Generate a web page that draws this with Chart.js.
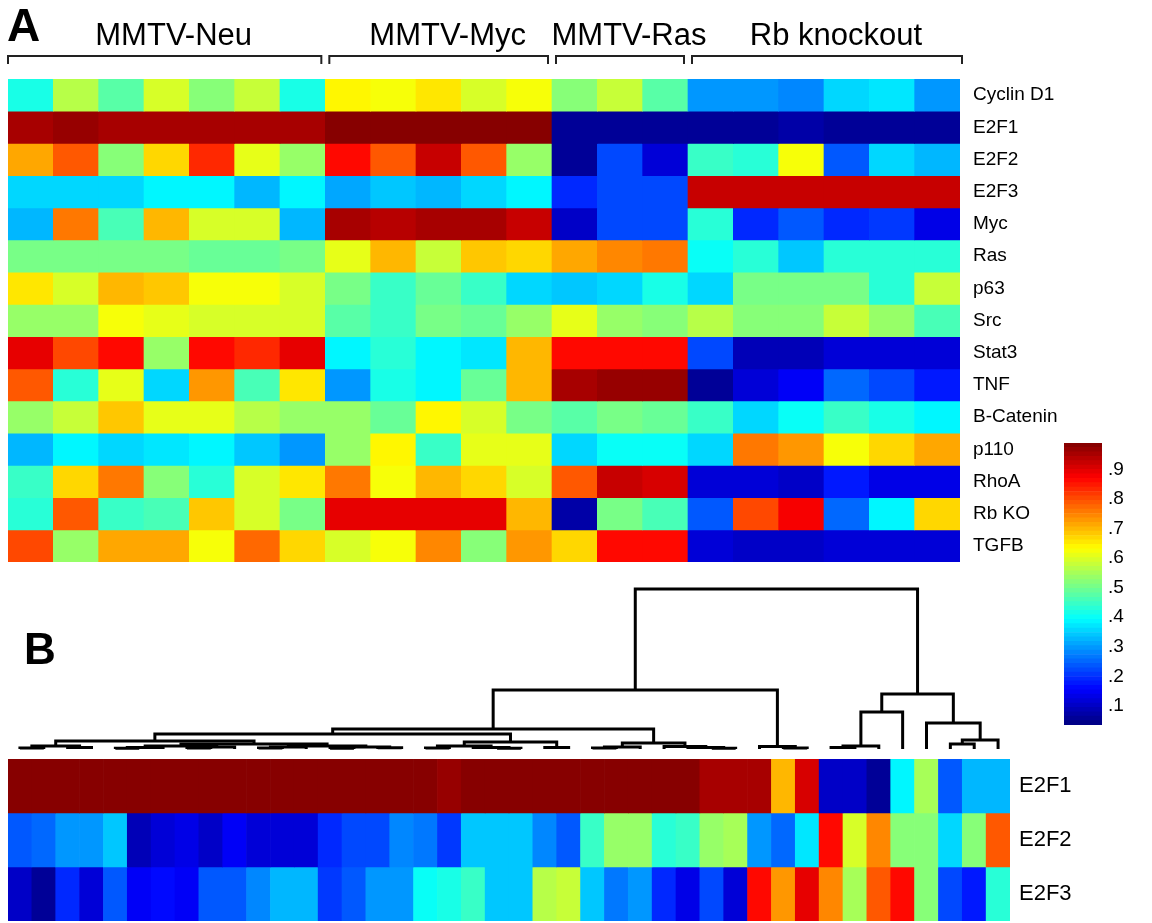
<!DOCTYPE html>
<html>
<head>
<meta charset="utf-8">
<script src="https://cdn.jsdelivr.net/npm/chart.js@4.4.0/dist/chart.umd.min.js"></script>
<style>
  html, body { margin: 0; padding: 0; background: #fff; overflow: hidden; }
  #page { position: relative; width: 1152px; height: 923px; overflow: hidden; }
  .box { position: absolute; }
</style>
</head>
<body>
<div id="page">
  <div class="box" style="left:0;top:0;width:1152px;height:600px"><canvas id="heatA"></canvas></div>
  <div class="box" style="left:1040px;top:420px;width:112px;height:330px"><canvas id="cbar"></canvas></div>
  <div class="box" style="left:0;top:560px;width:1152px;height:200px"><canvas id="dendro"></canvas></div>
  <div class="box" style="left:0;top:700px;width:1152px;height:260px"><canvas id="heatB"></canvas></div>
</div>
<script>
// ---- panel A data ----
var groupNames = ['MMTV-Neu', 'MMTV-Myc', 'MMTV-Ras', 'Rb knockout'];
var groupSizes = [7, 5, 3, 6];
var rowLabels = ['Cyclin D1', 'E2F1', 'E2F2', 'E2F3', 'Myc', 'Ras', 'p63', 'Src', 'Stat3', 'TNF', 'B-Catenin', 'p110', 'RhoA', 'Rb KO', 'TGFB'];

var cyclinD1 = [.41, .57, .48, .60, .52, .58, .42, .64, .63, .66, .59, .62, .52, .58, .47, .30, .29, .28, .36, .37, .30];
var e2f1     = [.95, .97, .96, .95, .95, .95, .95, .98, .98, .98, .98, .98, .06, .06, .06, .06, .06, .07, .06, .06, .06];
var e2f2     = [.72, .79, .52, .67, .83, .61, .53, .86, .79, .93, .79, .53, .06, .22, .12, .45, .43, .62, .24, .36, .33];
var e2f3     = [.35, .35, .36, .39, .38, .33, .38, .31, .34, .33, .35, .385, .19, .22, .22, .92, .92, .93, .92, .92, .92];
var myc      = [.33, .76, .46, .70, .59, .59, .32, .95, .94, .96, .95, .93, .10, .22, .22, .43, .19, .23, .19, .20, .13];
var ras      = [.50, .51, .50, .50, .49, .49, .51, .61, .70, .58, .69, .67, .72, .75, .76, .40, .43, .34, .43, .43, .43];
var p63      = [.66, .59, .70, .69, .63, .63, .59, .51, .45, .49, .44, .35, .34, .36, .42, .35, .50, .51, .51, .43, .58];
var src      = [.54, .54, .62, .61, .60, .59, .59, .47, .45, .51, .49, .53, .61, .53, .52, .57, .52, .52, .58, .53, .46];
var stat3    = [.89, .80, .86, .53, .86, .83, .90, .39, .43, .385, .37, .70, .87, .87, .87, .22, .09, .09, .11, .11, .11];
var tnf      = [.79, .43, .61, .36, .73, .46, .66, .29, .42, .39, .49, .70, .96, .97, .97, .06, .11, .15, .25, .22, .18];
var bCatenin = [.54, .58, .68, .61, .61, .57, .53, .53, .49, .64, .59, .51, .47, .51, .49, .45, .36, .40, .45, .42, .385];
var p110     = [.32, .385, .35, .37, .385, .34, .29, .53, .64, .45, .61, .61, .35, .40, .40, .36, .76, .73, .63, .67, .72];
var rhoA     = [.45, .67, .76, .52, .43, .60, .66, .76, .63, .70, .67, .59, .79, .93, .91, .11, .11, .10, .17, .13, .13];
var rbKO     = [.43, .79, .45, .46, .69, .60, .50, .89, .89, .89, .89, .70, .07, .50, .46, .24, .80, .88, .25, .385, .67];
var tgfb     = [.80, .54, .72, .72, .63, .77, .67, .60, .63, .75, .52, .73, .67, .86, .86, .12, .10, .10, .12, .11, .11];

// ---- panel B data ----
var rowLabelsB = ['E2F1', 'E2F2', 'E2F3'];
var bE2F1 = [.98, .98, .98, .98, .98, .98, .98, .98, .98, .98, .98, .98, .98, .98, .98, .98, .98, .98, .97, .98, .98,
             .98, .98, .98, .98, .98, .98, .98, .98, .96, .96, .96, .70, .91, .10, .10, .05, .39, .55, .24, .32, .33];
var bE2F2 = [.24, .25, .30, .30, .34, .08, .12, .13, .10, .15, .11, .11, .12, .19, .22, .22, .28, .27, .20, .34, .34,
             .34, .28, .23, .45, .53, .54, .43, .45, .54, .55, .29, .25, .37, .87, .60, .75, .52, .52, .36, .52, .79];
var bE2F3 = [.10, .06, .19, .12, .23, .15, .16, .15, .23, .23, .28, .33, .33, .20, .24, .30, .30, .40, .41, .45, .34,
             .34, .57, .58, .34, .27, .29, .19, .13, .22, .11, .87, .73, .89, .75, .55, .79, .87, .52, .22, .18, .43];

// dendrogram linkage: [child a, child b, height]; leaves are 0..41, merge m gets id 42 + m
var linkage = [
  [0, 1, 1], [2, 3, 1.5], [42, 43, 3],
  [4, 5, 0.8], [45, 6, 1.5], [7, 8, 1], [47, 9, 2], [46, 48, 3],
  [10, 11, 1], [50, 12, 2], [13, 14, 0.8], [15, 16, 1.2], [52, 53, 2], [51, 54, 3],
  [49, 55, 5], [44, 56, 8],
  [17, 18, 1], [20, 21, 0.8], [19, 59, 1.5], [58, 60, 3], [22, 23, 1.5], [61, 62, 7],
  [57, 63, 15],
  [24, 25, 1], [65, 26, 2], [29, 30, 0.8], [28, 67, 1.5], [27, 68, 2.5], [66, 69, 6],
  [64, 70, 20],
  [32, 33, 1], [31, 72, 2.5], [71, 73, 59],
  [34, 35, 1.5], [75, 36, 3], [76, 37, 37], [39, 40, 5], [78, 41, 9], [38, 79, 26], [77, 80, 55],
  [74, 81, 160]
];

// colour scale
var cbTicks = [.1, .2, .3, .4, .5, .6, .7, .8, .9];
var vMin = 0.035, vMax = 0.99, nLevels = 64;

Chart.defaults.font.family = '"Liberation Sans", Arial, sans-serif';
Chart.defaults.color = '#000';

function jet(t) {
  var c = function (x) { return Math.round(255 * Math.min(1, Math.max(0, x))); };
  return 'rgb(' + c(1.5 - Math.abs(4 * t - 3)) + ',' + c(1.5 - Math.abs(4 * t - 2)) + ',' + c(1.5 - Math.abs(4 * t - 1)) + ')';
}
function valueColor(v) {
  var k = Math.floor((v - vMin) / (vMax - vMin) * nLevels);
  k = Math.min(nLevels - 1, Math.max(0, k));
  return jet((k + 0.5) / nLevels);
}

function heatDatasets(rows) {
  return rows.map(function (vals, r) {
    return {
      data: vals.map(function () { return [r, r + 1]; }),
      backgroundColor: vals.map(valueColor),
      grouped: false,
      barPercentage: 1,
      categoryPercentage: 1,
      borderWidth: 0
    };
  });
}

// ---- A: heatmap ----
var heatARows = [cyclinD1, e2f1, e2f2, e2f3, myc, ras, p63, src, stat3, tnf, bCatenin, p110, rhoA, rbKO, tgfb];

var groupPlugin = {
  id: 'groups',
  afterDraw: function (chart) {
    var ctx = chart.ctx, x = chart.scales.x;
    var half = (x.getPixelForValue(1) - x.getPixelForValue(0)) / 2;
    var start = 0;
    ctx.save();
    ctx.strokeStyle = '#222';
    ctx.lineWidth = 2;
    ctx.fillStyle = '#000';
    ctx.textAlign = 'center';
    ctx.textBaseline = 'alphabetic';
    ctx.font = '31px "Liberation Sans", Arial, sans-serif';
    groupNames.forEach(function (name, g) {
      var end = start + groupSizes[g];
      var left = x.getPixelForValue(start) - half + (g === 0 ? 0 : 4);
      var right = x.getPixelForValue(end - 1) + half + (g === groupNames.length - 1 ? 2 : -4);
      ctx.beginPath();
      ctx.moveTo(left, 64);
      ctx.lineTo(left, 56);
      ctx.lineTo(right, 56);
      ctx.lineTo(right, 64);
      ctx.stroke();
      ctx.fillText(name, (left + right) / 2 + 9, 45);
      start = end;
    });
    ctx.textAlign = 'left';
    ctx.font = 'bold 46px "Liberation Sans", Arial, sans-serif';
    ctx.fillText('A', 7, 41);
    ctx.restore();
  }
};

new Chart(document.getElementById('heatA'), {
  type: 'bar',
  data: {
    labels: cyclinD1.map(function (_, i) { return i + 1; }),
    datasets: heatDatasets(heatARows)
  },
  options: {
    animation: false,
    responsive: true,
    maintainAspectRatio: false,
    layout: { padding: { left: 8, top: 79, right: 0, bottom: 38 } },
    plugins: { legend: { display: false }, tooltip: { enabled: false } },
    scales: {
      x: { display: false },
      y: {
        position: 'right',
        min: 0, max: rowLabels.length,
        reverse: true,
        grid: { display: false, drawTicks: false },
        border: { display: false },
        afterBuildTicks: function (s) { s.ticks = rowLabels.map(function (_, i) { return { value: i + 0.5 }; }); },
        afterFit: function (s) { s.width = 192; },
        ticks: {
          autoSkip: false,
          padding: 13,
          font: { size: 19 },
          callback: function (v) { return rowLabels[Math.floor(v)]; }
        }
      }
    }
  },
  plugins: [groupPlugin]
});

// ---- colour bar ----
var levels = Array.from({ length: nLevels }, function (_, k) { return k; });
new Chart(document.getElementById('cbar'), {
  type: 'bar',
  data: {
    labels: [''],
    datasets: levels.map(function (k) {
      var step = (vMax - vMin) / nLevels;
      return {
        data: [[vMin + k * step, vMin + (k + 1) * step]],
        backgroundColor: jet((k + 0.5) / nLevels),
        grouped: false, barPercentage: 1, categoryPercentage: 1, borderWidth: 0
      };
    })
  },
  options: {
    animation: false,
    responsive: true,
    maintainAspectRatio: false,
    layout: { padding: { left: 24, top: 23, right: 0, bottom: 25 } },
    plugins: { legend: { display: false }, tooltip: { enabled: false } },
    scales: {
      x: { display: false },
      y: {
        position: 'right',
        min: vMin, max: vMax,
        grid: { display: false, drawTicks: false },
        border: { display: false },
        afterBuildTicks: function (s) { s.ticks = cbTicks.map(function (v) { return { value: v }; }); },
        afterFit: function (s) { s.width = 50; },
        ticks: {
          autoSkip: false,
          padding: 6,
          font: { size: 19 },
          callback: function (v) { return '.' + Math.round(v * 10); }
        }
      }
    }
  }
});

// ---- B: dendrogram ----
var nLeaves = bE2F1.length;
var nodeX = [], nodeH = [];
for (var i = 0; i < nLeaves; i++) { nodeX[i] = i; nodeH[i] = 0; }
linkage.forEach(function (m, j) {
  nodeX[nLeaves + j] = (nodeX[m[0]] + nodeX[m[1]]) / 2;
  nodeH[nLeaves + j] = m[2];
});

var labelB = {
  id: 'labelB',
  afterDraw: function (chart) {
    var ctx = chart.ctx;
    ctx.save();
    ctx.fillStyle = '#000';
    ctx.font = 'bold 44px "Liberation Sans", Arial, sans-serif';
    ctx.fillText('B', 24, 104);
    ctx.restore();
  }
};

new Chart(document.getElementById('dendro'), {
  type: 'scatter',
  data: {
    datasets: linkage.map(function (m) {
      var a = m[0], b = m[1], h = m[2];
      return {
        data: [
          { x: nodeX[a], y: nodeH[a] }, { x: nodeX[a], y: h },
          { x: nodeX[b], y: h }, { x: nodeX[b], y: nodeH[b] }
        ],
        showLine: true,
        borderColor: '#000',
        borderWidth: 3,
        pointRadius: 0,
        tension: 0,
        clip: false
      };
    })
  },
  options: {
    animation: false,
    responsive: true,
    maintainAspectRatio: false,
    layout: { padding: { left: 8, top: 29, right: 142, bottom: 11 } },
    plugins: { legend: { display: false }, tooltip: { enabled: false } },
    scales: {
      x: { type: 'linear', display: false, min: -0.5, max: nLeaves - 0.5 },
      y: { type: 'linear', display: false, min: 0, max: 160 }
    }
  },
  plugins: [labelB]
});

// ---- B: heatmap ----
new Chart(document.getElementById('heatB'), {
  type: 'bar',
  data: {
    labels: bE2F1.map(function (_, i) { return i + 1; }),
    datasets: heatDatasets([bE2F1, bE2F2, bE2F3])
  },
  options: {
    animation: false,
    responsive: true,
    maintainAspectRatio: false,
    layout: { padding: { left: 8, top: 59, right: 0, bottom: 39 } },
    plugins: { legend: { display: false }, tooltip: { enabled: false } },
    scales: {
      x: { display: false },
      y: {
        position: 'right',
        min: 0, max: rowLabelsB.length,
        reverse: true,
        grid: { display: false, drawTicks: false },
        border: { display: false },
        afterBuildTicks: function (s) { s.ticks = rowLabelsB.map(function (_, i) { return { value: i + 0.5 }; }); },
        afterFit: function (s) { s.width = 142; },
        ticks: {
          autoSkip: false,
          padding: 9,
          font: { size: 22 },
          callback: function (v) { return rowLabelsB[Math.floor(v)]; }
        }
      }
    }
  }
});
</script>
</body>
</html>
